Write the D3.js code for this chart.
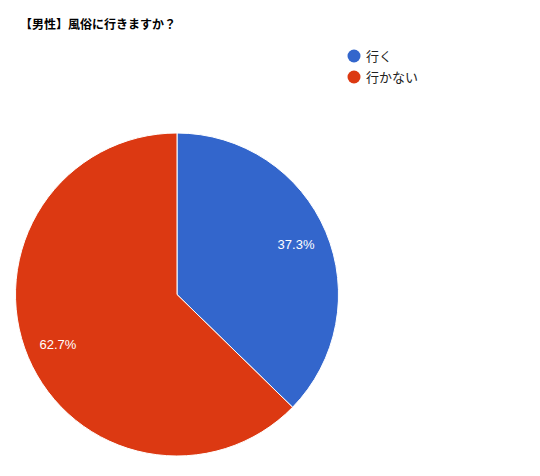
<!DOCTYPE html>
<html>
<head>
<meta charset="utf-8">
<style>
  body { margin: 0; background: #fff; }
  text { font-family: "Liberation Sans", Arial, "Noto Sans CJK JP", sans-serif; }
  .cjk { font-family: "Noto Sans CJK JP", sans-serif; }
</style>
</head>
<body>
<svg id="chart" width="540" height="476"></svg>
<script src="https://d3js.org/d3.v7.min.js"></script>
<script>

var categories = ["行く", "行かない"]
var values = [37.3, 62.7]
var colors = ["#3366cc", "#dc3912"]
var title = "【男性】風俗に行きますか？"

var svg = d3.select("#chart")

svg.append("rect").attr("width", 540).attr("height", 476).attr("fill", "#fff")

svg.append("text")
   .attr("class", "cjk")
   .attr("x", 20)
   .attr("y", 29)
   .attr("font-size", 12)
   .attr("font-weight", "bold")
   .attr("fill", "#000")
   .text(title)

var cx = 177, cy = 294.5, r = 161.5

var pie = d3.pie().sort(null).value(function(d){ return d })
var arc = d3.arc().innerRadius(0).outerRadius(r)
var labelArc = d3.arc().innerRadius(r * 0.8).outerRadius(r * 0.8)

var g = svg.append("g").attr("transform", "translate(" + cx + "," + cy + ")")
var slices = pie(values)

g.selectAll("path")
 .data(slices)
 .enter().append("path")
 .attr("d", arc)
 .attr("fill", function(d, i){ return colors[i] })
 .attr("stroke", "#fff")
 .attr("stroke-width", 1)

g.selectAll(".lbl")
 .data(slices)
 .enter().append("text")
 .attr("class", "lbl")
 .attr("transform", function(d){ return "translate(" + labelArc.centroid(d) + ")" })
 .attr("text-anchor", "middle")
 .attr("dy", "0.35em")
 .attr("font-size", 13)
 .attr("fill", "#fff")
 .text(function(d){ return d.value.toFixed(1) + "%" })

// legend
var legend = svg.selectAll(".leg")
  .data(categories)
  .enter().append("g")
  .attr("class", "leg")
  .attr("transform", function(d, i){ return "translate(354," + (56 + i * 21) + ")" })

legend.append("circle")
  .attr("r", 6.5)
  .attr("fill", function(d, i){ return colors[i] })

legend.append("text")
  .attr("class", "cjk")
  .attr("x", 12)
  .attr("dy", "0.35em")
  .attr("font-size", 13)
  .attr("fill", "#222")
  .text(function(d){ return d })

</script>
</body>
</html>
